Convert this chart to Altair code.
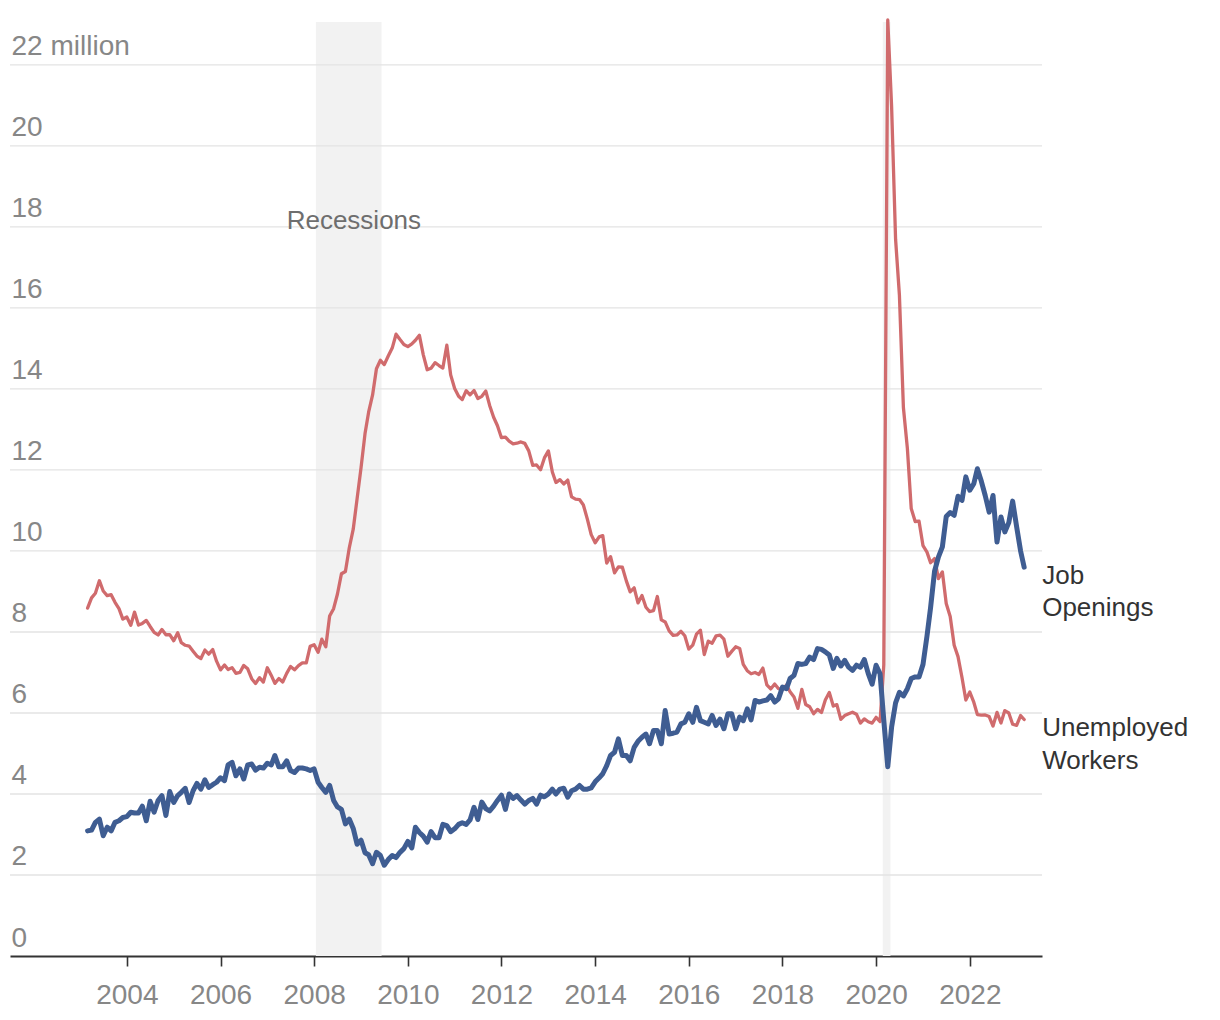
import altair as alt
import pandas as pd

# ---------------- data (millions, monthly, Mar 2003 - Mar 2023) ----------------
FIRST_MONTH = "2003-03-01"

job_openings = [
    # 2003 (Mar-Dec)
    3.09, 3.11, 3.30, 3.38, 2.97, 3.18, 3.09, 3.30, 3.34, 3.42,
    # 2004
    3.44, 3.55, 3.53, 3.53, 3.70, 3.34, 3.82, 3.55, 3.84, 3.96, 3.47, 4.06,
    # 2005
    3.79, 3.96, 4.04, 4.14, 3.79, 4.08, 4.26, 4.12, 4.35, 4.16, 4.23, 4.29,
    # 2006
    4.40, 4.33, 4.72, 4.78, 4.45, 4.62, 4.37, 4.72, 4.74, 4.59, 4.66, 4.64,
    # 2007
    4.76, 4.72, 4.95, 4.67, 4.67, 4.82, 4.58, 4.53, 4.64, 4.64, 4.62, 4.58,
    # 2008
    4.62, 4.29, 4.16, 4.04, 4.21, 3.84, 3.68, 3.62, 3.26, 3.38, 3.15, 2.76,
    # 2009
    2.86, 2.55, 2.50, 2.28, 2.56, 2.48, 2.24, 2.38, 2.48, 2.43, 2.56, 2.65,
    # 2010
    2.83, 2.67, 3.18, 3.05, 2.96, 2.81, 3.07, 2.92, 2.92, 3.25, 3.22, 3.07,
    # 2011
    3.14, 3.25, 3.29, 3.25, 3.36, 3.67, 3.37, 3.80, 3.64, 3.58, 3.70, 3.84,
    # 2012
    3.97, 3.62, 4.00, 3.89, 3.96, 3.85, 3.75, 3.84, 3.89, 3.75, 3.97, 3.93,
    # 2013
    4.00, 4.12, 4.00, 4.12, 4.14, 3.92, 4.08, 4.12, 4.21, 4.12, 4.12, 4.15,
    # 2014
    4.30, 4.40, 4.50, 4.70, 4.95, 5.03, 5.36, 4.95, 4.95, 4.82, 5.15, 5.30,
    # 2015
    5.40, 5.48, 5.24, 5.57, 5.57, 5.24, 6.06, 5.48, 5.50, 5.53, 5.73, 5.77,
    # 2016
    5.98, 5.77, 6.14, 5.81, 5.77, 5.73, 5.94, 5.69, 5.85, 5.61, 5.98, 5.98,
    # 2017
    5.61, 5.90, 5.81, 6.10, 5.83, 6.31, 6.27, 6.30, 6.32, 6.43, 6.27, 6.35,
    # 2018
    6.64, 6.60, 6.85, 6.93, 7.22, 7.20, 7.22, 7.38, 7.32, 7.59, 7.57, 7.51,
    # 2019
    7.43, 7.10, 7.35, 7.16, 7.30, 7.13, 7.05, 7.18, 7.13, 7.32, 6.97, 6.71,
    # 2020
    7.18, 6.97, 5.82, 4.67, 5.65, 6.25, 6.51, 6.42, 6.60, 6.85, 6.89, 6.89,
    # 2021
    7.20, 7.90, 8.60, 9.50, 9.85, 10.10, 10.85, 10.95, 10.88, 11.35, 11.25, 11.83,
    # 2022
    11.50, 11.66, 12.03, 11.72, 11.37, 10.96, 11.37, 10.22, 10.84, 10.47, 10.70, 11.23,
    # 2023 (Jan-Mar)
    10.60, 10.00, 9.60,
]

unemployed = [
    # 2003 (Mar-Dec)
    8.588, 8.842, 8.957, 9.266, 9.011, 8.896, 8.921, 8.732, 8.576, 8.317,
    # 2004
    8.370, 8.167, 8.491, 8.170, 8.212, 8.286, 8.136, 7.990, 7.927, 8.061, 7.932, 7.934,
    # 2005
    7.784, 7.980, 7.737, 7.672, 7.651, 7.524, 7.406, 7.345, 7.553, 7.453, 7.566, 7.279,
    # 2006
    7.064, 7.184, 7.072, 7.120, 6.980, 7.001, 7.175, 7.091, 6.847, 6.727, 6.872, 6.762,
    # 2007
    7.116, 6.927, 6.731, 6.850, 6.766, 6.979, 7.149, 7.067, 7.170, 7.237, 7.240, 7.645,
    # 2008
    7.685, 7.497, 7.822, 7.637, 8.395, 8.575, 8.937, 9.438, 9.494, 10.074, 10.538, 11.286,
    # 2009
    12.058, 12.898, 13.426, 13.853, 14.499, 14.707, 14.601, 14.814, 15.009, 15.352, 15.219, 15.098,
    # 2010
    15.046, 15.113, 15.202, 15.325, 14.849, 14.474, 14.512, 14.648, 14.579, 14.516, 15.081, 14.348,
    # 2011
    14.013, 13.820, 13.737, 13.957, 13.855, 13.962, 13.763, 13.818, 13.948, 13.594, 13.302, 13.093,
    # 2012
    12.797, 12.813, 12.713, 12.646, 12.660, 12.692, 12.656, 12.471, 12.115, 12.124, 12.005, 12.298,
    # 2013
    12.471, 11.950, 11.689, 11.760, 11.654, 11.751, 11.335, 11.279, 11.270, 11.136, 10.787, 10.404,
    # 2014
    10.202, 10.349, 10.380, 9.702, 9.859, 9.460, 9.608, 9.599, 9.262, 8.990, 9.090, 8.717,
    # 2015
    8.903, 8.610, 8.504, 8.526, 8.875, 8.299, 8.248, 8.029, 7.915, 7.927, 8.016, 7.907,
    # 2016
    7.576, 7.676, 7.946, 8.045, 7.441, 7.774, 7.723, 7.904, 7.920, 7.822, 7.401, 7.521,
    # 2017
    7.634, 7.594, 7.201, 7.043, 6.969, 6.999, 6.952, 7.108, 6.693, 6.594, 6.715, 6.599,
    # 2018
    6.576, 6.690, 6.523, 6.396, 6.115, 6.584, 6.209, 6.154, 5.982, 6.088, 6.011, 6.318,
    # 2019
    6.505, 6.171, 6.207, 5.843, 5.935, 5.980, 6.020, 5.971, 5.751, 5.853, 5.784, 5.749,
    # 2020
    5.892, 5.787, 7.185, 23.109, 20.975, 17.697, 16.308, 13.542, 12.535, 11.049, 10.728, 10.736,
    # 2021
    10.130, 9.972, 9.710, 9.812, 9.316, 9.484, 8.702, 8.384, 7.674, 7.392, 6.877, 6.319,
    # 2022
    6.516, 6.266, 5.962, 5.948, 5.950, 5.911, 5.677, 6.014, 5.753, 6.059, 6.000, 5.722,
    # 2023 (Jan-Mar)
    5.694, 5.936, 5.839,
]

recession_start = ["2008-01-15", "2020-02-22"]
recession_end = ["2009-06-10", "2020-04-22"]

y_ticks = [0, 2, 4, 6, 8, 10, 12, 14, 16, 18, 20, 22]
grid_values = [2, 4, 6, 8, 10, 12, 14, 16, 18, 20, 22]
x_tick_years = [2004, 2006, 2008, 2010, 2012, 2014, 2016, 2018, 2020, 2022]
y_max = 23.06

series_labels = ["Job\nOpenings", "Unemployed\nWorkers"]
recession_label = "Recessions"
recession_label_date = "2008-11-06"
recession_label_value = 17.96

# ---------------- styling ----------------
FONT = "Liberation Sans"
RED = "#d06b6d"
BLUE = "#3f5d92"
GREY_LABEL = "#878787"

# ---------------- frames ----------------
dates = pd.date_range(FIRST_MONTH, periods=len(job_openings), freq="MS")
df = pd.DataFrame({"date": dates, "openings": job_openings, "unemployed": unemployed})

rec_df = pd.DataFrame({
    "start": pd.to_datetime(recession_start),
    "end": pd.to_datetime(recession_end),
    "lo": [0, 0],
    "hi": [y_max, y_max],
})
grid_df = pd.DataFrame({"v": grid_values})
lab_df = pd.DataFrame({
    "date": [dates[-1], dates[-1]],
    "value": [job_openings[-1], unemployed[-1]],
    "text": series_labels,
})
rec_lab_df = pd.DataFrame({
    "date": pd.to_datetime([recession_label_date]),
    "value": [recession_label_value],
    "text": [recession_label],
})

x_scale = alt.Scale(
    domain=[alt.DateTime(year=2001, month=7, date=4), alt.DateTime(year=2023, month=7, date=18)],
    nice=False,
)
y_scale = alt.Scale(domain=[0, y_max], nice=False, zero=True)

x_axis = alt.Axis(
    values=[alt.DateTime(year=y, month=1, date=1) for y in x_tick_years],
    format="%Y",
    title=None,
    grid=False,
    domain=True,
    domainColor="#333333",
    domainWidth=2,
    ticks=True,
    tickColor="#333333",
    tickWidth=1.6,
    tickSize=10,
    labelFont=FONT,
    labelFontSize=28,
    labelColor=GREY_LABEL,
    labelBaseline="alphabetic",
    labelPadding=37,
    labelFlush=False,
    labelOverlap=False,
)
y_axis = alt.Axis(
    values=y_ticks,
    labelExpr="datum.value == 22 ? '22 million' : datum.label",
    title=None,
    grid=False,
    domain=False,
    ticks=False,
    labelAlign="left",
    labelBaseline="alphabetic",
    labelPadding=-1,
    labelOffset=-10,
    labelFont=FONT,
    labelFontSize=28,
    labelColor=GREY_LABEL,
    labelOverlap=False,
)

bands = alt.Chart(rec_df).mark_rect(color="#f2f2f2").encode(
    x=alt.X("start:T", scale=x_scale, axis=x_axis),
    x2="end:T",
    y=alt.Y("lo:Q", scale=y_scale, axis=y_axis),
    y2="hi:Q",
)

grid = alt.Chart(grid_df).mark_rule(color="#e3e3e3", strokeWidth=1.3).encode(
    y=alt.Y("v:Q", scale=y_scale, axis=y_axis),
)

rec_text = alt.Chart(rec_lab_df).mark_text(
    align="center", baseline="alphabetic", font=FONT, fontSize=26, color="#6e6e6e"
).encode(
    x=alt.X("date:T", scale=x_scale, axis=x_axis),
    y=alt.Y("value:Q", scale=y_scale, axis=y_axis),
    text="text:N",
)

red_line = alt.Chart(df).mark_line(
    color=RED, strokeWidth=3.3, strokeJoin="round", strokeCap="round"
).encode(
    x=alt.X("date:T", scale=x_scale, axis=x_axis),
    y=alt.Y("unemployed:Q", scale=y_scale, axis=y_axis),
)

blue_line = alt.Chart(df).mark_line(
    color=BLUE, strokeWidth=5, strokeJoin="round", strokeCap="round"
).encode(
    x=alt.X("date:T", scale=x_scale, axis=x_axis),
    y=alt.Y("openings:Q", scale=y_scale, axis=y_axis),
)

labels = alt.Chart(lab_df).mark_text(
    align="left", baseline="alphabetic", dx=18, dy=16.5,
    font=FONT, fontSize=26, color="#333333", lineBreak="\n", lineHeight=32.5,
).encode(
    x=alt.X("date:T", scale=x_scale, axis=x_axis),
    y=alt.Y("value:Q", scale=y_scale, axis=y_axis),
    text="text:N",
)

chart = alt.layer(bands, grid, rec_text, red_line, blue_line, labels).properties(
    width=1032,
    height=934,
    padding={"left": 2, "top": 14, "right": 170, "bottom": 56},
    autosize=alt.AutoSizeParams(type="none"),
    background="white",
).configure_view(stroke=None)

chart.save("out.html", embed_options={"renderer": "svg", "actions": False})
